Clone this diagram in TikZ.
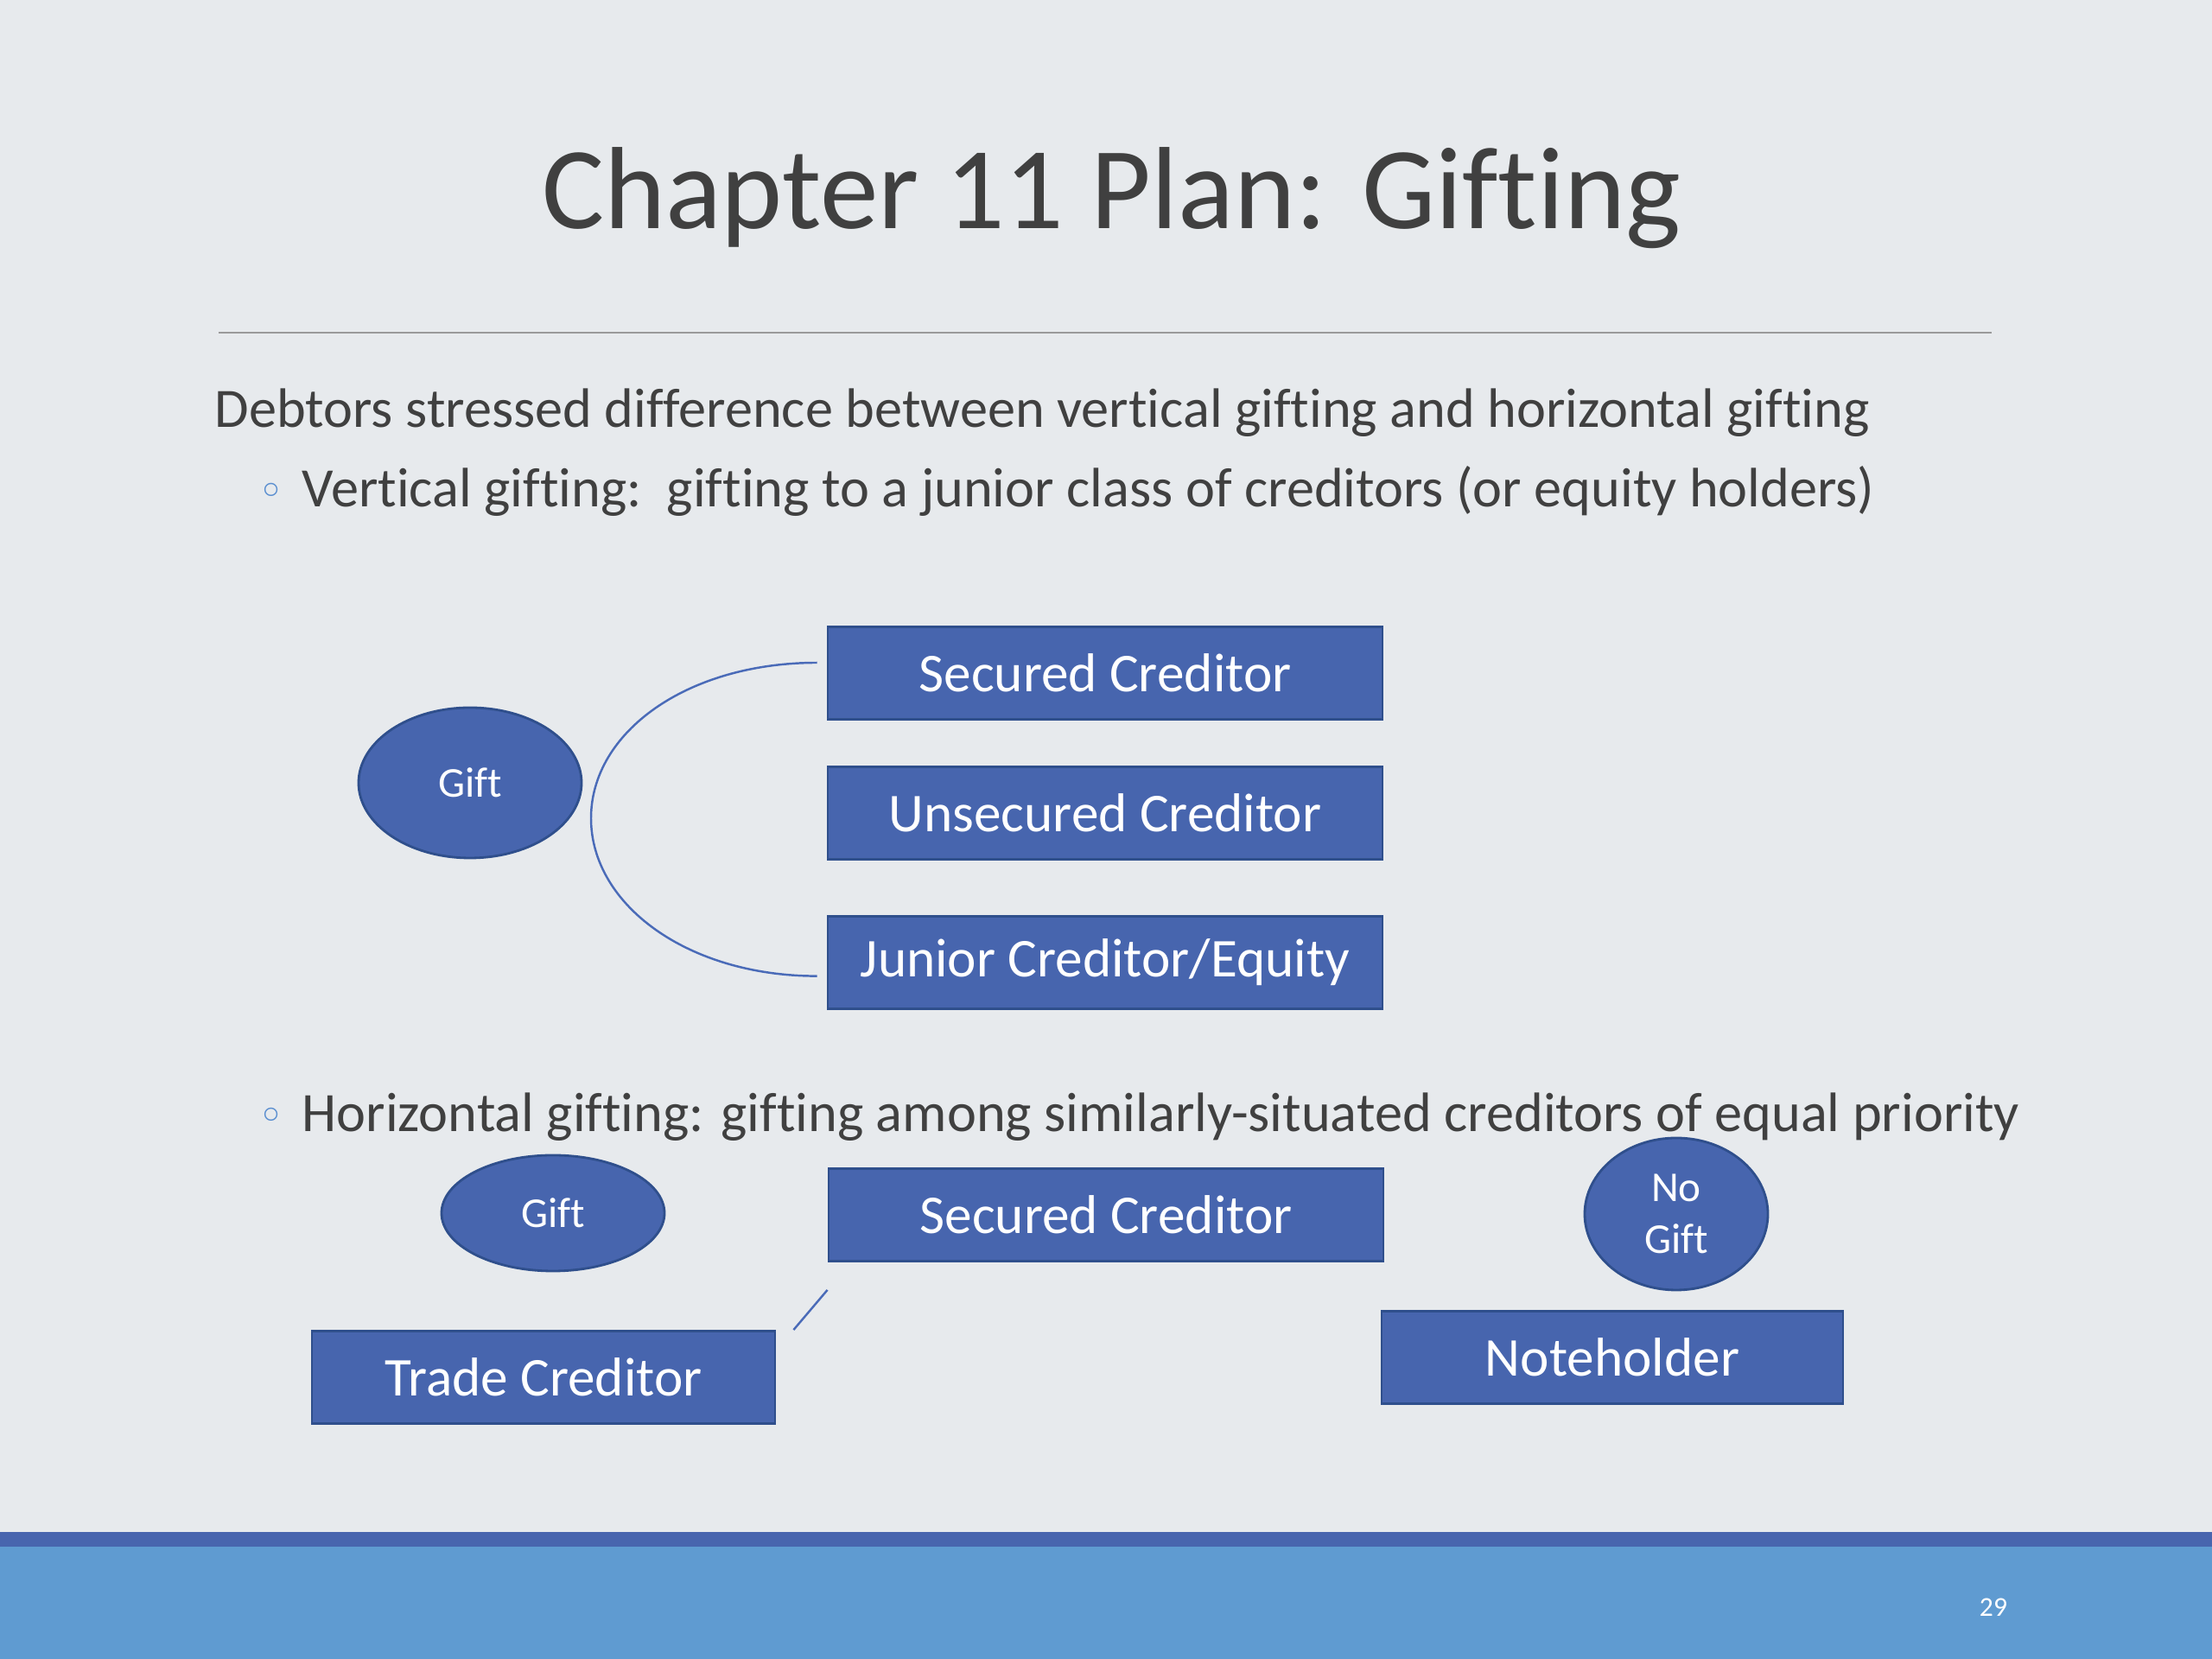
\documentclass[tikz,border=0pt]{standalone}
\usepackage{fontspec}
\setmainfont{Carlito}[Ligatures=NoCommon]
\newfontfamily\symfont{DejaVu Sans}
\usetikzlibrary{shapes.geometric,positioning}
\definecolor{slidebg}{HTML}{E7EAED}
\definecolor{boxblue}{HTML}{4765AE}
\definecolor{boxedge}{HTML}{2F4F8C}
\definecolor{linkblue}{HTML}{4A6BB8}
\definecolor{bandblue}{HTML}{5F9BD1}
\definecolor{bardark}{HTML}{4865AE}
\definecolor{textgray}{HTML}{404040}
\definecolor{rulegray}{HTML}{9A9A9A}
\definecolor{dotblue}{HTML}{5B8FD0}
\tikzset{
  party/.style={rectangle, draw=boxedge, fill=boxblue, line width=0.8pt,
    text=white, font=\fontsize{18}{22}\selectfont,
    minimum width=6.42cm, minimum height=1.07cm, inner sep=0pt},
  giftnode/.style={ellipse, draw=boxedge, fill=boxblue, line width=0.8pt,
    text=white, font=\fontsize{14}{17}\selectfont, align=center, inner sep=0pt},
  slidetext/.style={text=textgray, font=\fontsize{18.3}{22}\selectfont,
    anchor=west, inner sep=0pt},
  link/.style={draw=linkblue, line width=0.7pt}
}
\newcommand{\slidedot}{{\symfont\fontsize{15}{17}\selectfont\color{dotblue}◦}\hspace{0.2cm}}
\begin{document}
\begin{tikzpicture}
\fill[slidebg] (0,0) rectangle (25.6,19.2);
\useasboundingbox (0,0) rectangle (25.6,19.2);
\fill[bandblue] (0,0) rectangle (25.6,1.30);
\fill[bardark] (0,1.30) rectangle (25.6,1.47);

\node (title) at (12.86,16.91) [text=textgray, font=\fontsize{38.5}{46}\selectfont] {Chapter 11 Plan: Gifting};
\draw[rulegray, line width=0.6pt] (2.53,15.35) -- (23.05,15.35);

\node (intro) at (2.48,14.42) [slidetext] {Debtors stressed difference between vertical gifting and horizontal gifting};
\node (vert) at (2.98,13.51) [slidetext] {\slidedot Vertical gifting:\ \ gifting to a junior class of creditors (or equity holders)};

\node (gift1) at (5.44,10.14) [giftnode, minimum width=2.58cm, minimum height=1.74cm] {Gift};
\node (sec1) at (12.79,11.41) [party] {Secured Creditor};
\node (unsec) [party, below=0.52cm of sec1] {Unsecured Creditor};
\node (junior) [party, below=0.63cm of unsec] {Junior Creditor/Equity};

\coordinate (brtop) at ([xshift=-1.1mm,yshift=1.2mm]sec1.west);
\coordinate (brmid) at (6.84,9.73);
\coordinate (brbot) at ([xshift=-1.1mm,yshift=-1.6mm]junior.west);
\draw[link] (brtop) .. controls +(-1.5,0) and +(0,1.0) .. (brmid)
  .. controls +(0,-1.0) and +(-1.5,0) .. (brbot);

\node (horiz) at (2.98,6.27) [slidetext] {\slidedot Horizontal gifting: gifting among similarly-situated creditors of equal priority};

\node (gift2) at (6.40,5.16) [giftnode, minimum width=2.58cm, minimum height=1.34cm] {Gift};
\node (sec2) at (12.80,5.14) [party] {Secured Creditor};
\node (nogift) at (19.40,5.15) [giftnode, minimum width=2.12cm, minimum height=1.76cm] {No\\Gift};
\node (trade) at (6.29,3.26) [party, minimum width=5.36cm] {Trade Creditor};
\node (note) at (18.66,3.49) [party, minimum width=5.34cm] {Noteholder};

\coordinate (slashtop) at ([yshift=-3.2mm]sec2.south west);
\coordinate (slashbot) at ([xshift=2mm]trade.north east);
\draw[link] (slashtop) -- (slashbot);

\node (pagenum) at (23.07,0.60) [text=white, font=\fontsize{9}{11}\selectfont] {29};
\end{tikzpicture}
\end{document}
